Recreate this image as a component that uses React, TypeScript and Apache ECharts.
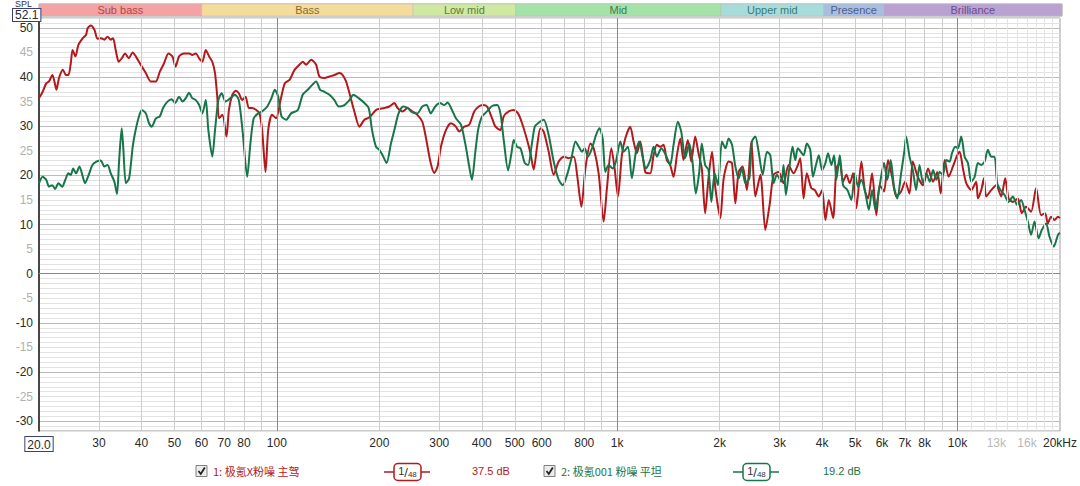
import React, { useEffect, useRef } from "react";
import * as echarts from "echarts";

// Frequencies (Hz) and SPL (dB), series 1 (red)
const FREQ_RED = [20.0,20.5,21.0,21.4,21.9,22.2,22.5,22.9,23.5,24.0,24.4,24.8,25.1,25.6,26.1,26.9,27.5,27.8,28.4,29.1,29.7,30.4,31.1,31.8,32.5,33.0,33.6,34.3,35.0,35.8,36.7,37.7,38.5,39.8,41.2,42.6,44.1,45.3,46.6,48.0,49.3,50.4,51.6,53.4,55.2,56.4,57.8,59.1,60.4,61.8,63.2,64.6,65.8,66.8,67.6,69.2,71.1,72.3,74.0,75.7,77.3,79.1,80.9,82.7,84.6,87.0,88.9,90.5,92.6,94.3,96.8,99.5,102.5,105.5,108.9,112.6,116.5,119.1,121.9,126.1,130.4,133.3,137.9,142.7,147.6,152.6,156.1,159.7,163.4,168.9,174.8,180.8,187.0,195.6,200,206.9,214.0,221.4,226.3,234.1,242.2,250,258.6,267.5,273.7,283.1,290.1,296.6,303.4,313.9,324.6,335.7,343.4,355.2,367.4,380.1,392,402.7,414.6,428.8,438.8,453.8,464,480.1,496.6,511.2,525.3,543.5,556,568.3,581.3,594.8,608.1,629,650.6,673,696.7,720.6,745.4,762.3,784.9,806.5,834.2,852.9,881.9,912.3,932.8,961,982.6,1005,1032,1056,1092,1117,1142,1169,1209,1250,1279,1308,1338,1368,1399,1431,1464,1498,1532,1566,1612,1650,1695,1733,1772,1813,1854,1899,1943,2009,2055,2125,2174,2224,2274,2336,2405,2478,2546,2634,2724,2804,2881,2980,3082,3188,3297,3394,3450,3529,3607,3718,3808,3911,4000,4090,4185,4308,4406,4508,4609,4714,4823,4933,5044,5217,5338,5459,5608,5774,5908,6081,6248,6421,6608,6826,7014,7225,7388,7642,7919,8191,8472,8722,8921,9166,9417,9693,9980,10143,10371,10605,10970,11345,11477,11740,11951,12138,12556,12988,13436,13802,14123,14539,15039,15449,15903,16448,17015,17601,18086,18418,18833,19271,19730,20000];
const SPL_RED = [35.7,37.0,38.7,39.1,40.4,39.1,37.4,39.8,41.5,40.4,40.4,42.8,45.5,44.2,46.5,47.9,48.6,49.9,50.5,49.6,47.8,47.9,47.6,48.2,47.6,47.9,45.5,43.1,43.8,44.8,43.8,45.0,44.2,42.5,40.8,39.1,39.1,41.1,42.8,44.8,44.2,42.1,44.2,44.8,44.8,44.5,44.8,43.8,43.1,45.5,44.2,43.1,40.8,36.0,31.6,32.3,27.9,33.3,36.4,37.2,36.7,35.3,36.0,33.7,33.7,33.3,32.6,29.2,20.7,29.2,32.3,31.6,35.3,38.7,39.4,41.4,42.5,43.1,42.5,43.5,42.5,40.1,39.8,40.1,40.4,40.8,40.4,39.1,36.7,33.0,29.9,31.3,31.8,33.3,33.5,33.7,34.0,34.7,33.7,33.0,33.7,33.0,32.3,30.9,27.9,22.5,20.5,21.8,25.8,29.2,30.6,29.9,28.9,29.9,30.3,33.0,34.0,34.3,34.0,31.6,29.9,29.2,32.0,33.0,33.3,32.6,30.6,27.2,24.5,21.2,25.8,29.6,28.9,24.8,20.1,22.8,23.8,23.5,23.8,20.1,13.6,21.4,26.5,25.5,20.4,10.6,17.4,25.5,21.4,15.7,24.1,27.5,29.9,26.9,24.5,26.9,20.7,20.4,24.1,26.2,25.8,26.2,23.1,22.1,19.7,24.1,27.5,23.1,27.2,22.8,27.9,24.5,21.4,12.3,19.4,24.8,17.4,11.3,19.4,22.8,22.5,14.3,20.7,21.8,17.0,26.9,15.7,20.1,8.9,14.0,20.1,20.7,18.4,22.1,20.4,22.1,23.5,15.3,20.4,17.4,17.0,15.7,17.0,10.9,15.0,11.3,21.4,22.5,18.7,20.1,18.4,20.4,13.3,22.8,17.0,15.3,20.4,11.9,18.0,16.7,23.1,19.7,15.7,16.7,18.7,16.3,22.8,19.7,18.0,21.4,18.7,20.7,16.3,23.1,19.7,21.8,24.1,24.8,21.4,18.4,17.0,18.7,15.3,17.0,19.4,15.7,17.0,18.0,15.7,19.4,15.3,14.6,15.3,12.3,13.6,12.6,17.4,11.9,12.3,10.2,11.6,10.9,11.6,11.3];

// Series 2 (green)
const FREQ_GREEN = [20.0,20.5,21.0,21.4,21.9,22.3,22.8,23.4,23.9,24.4,24.8,25.2,25.7,26.3,26.9,27.3,28.0,28.7,29.5,30.4,31.1,31.8,32.5,33.3,33.9,34.4,35.0,35.4,36.0,36.8,37.7,38.3,39.2,40.1,41.2,42.1,42.9,44.1,45.3,46.3,47.7,49.1,50.2,51.6,52.8,54.0,55.2,56.4,57.8,59.1,60.4,61.8,62.9,64.6,65.8,67.3,68.8,70.7,73.1,75.3,77.3,79.4,81.8,83.6,85.5,88.1,90.5,93.7,96.4,98.6,100.9,103.2,106.5,110.1,115.2,119.1,123.2,127,130.4,134,137.9,142.7,147.6,151.9,157.9,163.4,167.8,173.9,180.8,186.1,190.4,195.6,200,204.5,210.1,216.4,221.4,227.8,235.2,242.2,250,258.6,267.5,275.4,283.1,292,301.4,310.3,317.4,326.9,335.7,347.4,357.6,367.4,374.2,382.6,390.1,400.8,414.6,428.8,443.7,453.8,464,477.9,488.9,496.6,507.9,519.6,535.1,547.2,559.7,572.3,585.1,608.1,629,650.6,673,692,712.4,733.9,753.9,771,788.2,802.7,820.8,843.3,866.4,886.1,906.1,922.8,943.6,969.4,991.3,1021,1044,1075,1104,1135,1161,1187,1214,1250,1279,1308,1347,1390,1431,1464,1507,1542,1584,1628,1664,1702,1742,1772,1813,1854,1891,1934,1977,2031,2079,2125,2174,2224,2274,2325,2380,2445,2489,2546,2603,2675,2754,2817,2881,2946,3035,3082,3131,3203,3275,3336,3394,3529,3607,3691,3759,3849,3911,4000,4090,4165,4259,4338,4406,4508,4609,4745,4877,4990,5102,5217,5338,5486,5608,5734,5908,6081,6218,6363,6506,6654,6826,6986,7062,7225,7388,7555,7729,7919,8098,8286,8472,8665,8861,9061,9266,9481,9630,9849,10027,10253,10491,10728,10970,11225,11477,11740,12008,12279,12556,12847,13075,13377,13747,14123,14539,14966,15376,15731,16086,16448,16832,17296,17686,18207,18630,19179,19730,20000];
const SPL_GREEN = [18.4,19.7,19.1,17.7,18.0,17.2,18.4,17.7,19.1,20.4,20.1,21.4,20.4,21.8,19.7,18.4,20.1,22.1,22.8,23.0,21.8,22.1,20.4,18.7,16.2,23.1,29.6,25.2,18.4,19.4,25.8,28.6,31.6,33.3,32.6,30.6,29.9,31.6,32.0,33.7,35.0,35.5,34.7,36.0,35.0,35.7,36.8,35.7,35.3,34.3,32.6,35.3,29.2,23.8,29.2,35.3,36.7,35.0,35.7,36.4,35.3,28.6,19.7,26.5,31.6,32.6,33.0,34.0,35.7,37.4,36.0,32.0,31.3,32.6,33.3,36.4,37.4,38.4,39.1,37.4,37.0,36.4,35.3,34.0,34.3,35.3,36.4,35.7,34.7,33.7,29.2,25.8,25.2,24.1,22.5,26.5,29.2,32.6,34.0,33.7,32.8,32.6,34.0,34.3,32.6,34.0,34.7,34.3,34.8,33.3,31.6,30.3,26.5,21.8,19.1,24.5,29.2,32.0,33.0,34.1,34.3,32.6,27.2,21.0,24.5,27.2,25.8,25.5,22.5,22.1,25.8,29.9,30.6,31.3,28.2,22.8,19.1,18.0,20.1,23.5,26.9,25.8,24.8,25.5,23.8,25.5,28.2,29.6,27.5,20.7,22.1,21.4,22.8,26.9,24.8,25.8,19.4,24.8,26.9,23.8,21.4,23.1,25.8,23.8,25.5,24.1,22.1,26.2,30.9,28.9,23.5,26.5,22.8,16.3,20.7,26.5,22.1,21.1,14.6,20.4,18.0,26.9,25.5,27.5,26.2,21.8,19.4,21.4,18.4,19.4,26.9,27.9,24.8,20.1,24.8,24.1,18.4,20.1,18.7,22.1,16.0,21.4,25.8,23.1,25.5,24.1,26.5,25.2,19.7,22.5,24.1,21.1,22.5,24.5,22.1,24.1,19.1,24.1,18.0,17.0,15.0,20.4,17.7,19.1,17.0,13.0,17.0,13.0,18.0,22.5,19.1,23.1,17.7,15.3,20.4,25.2,27.9,23.8,21.1,17.0,22.1,18.4,20.4,18.7,21.1,19.1,20.7,20.1,23.1,22.8,24.5,25.8,25.5,27.9,23.8,22.5,18.7,19.7,22.5,22.1,22.8,25.2,23.8,23.8,18.4,17.0,16.0,14.6,15.7,14.0,15.0,13.0,10.6,7.9,10.6,7.2,8.9,10.2,7.5,5.5,7.9,8.3];

const SERIES_NAMES = ["1: 极氪X粉噪 主驾", "2: 极氪001 粉噪 平坦"];
const SERIES_COLORS = ["#b3191c", "#17754a"];
const SERIES_LEVELS = ["37.5 dB", "19.2 dB"];

const BAND_NAMES = ["Sub bass", "Bass", "Low mid", "Mid", "Upper mid", "Presence", "Brilliance"];
const BAND_EDGES = [20, 60, 250, 500, 2000, 4000, 6000, 20000];
const BAND_FILL = ["#f4a2a3", "#f6dc9c", "#cfe9a2", "#a4e3a8", "#a6ddda", "#a9bde0", "#b9a2d2"];
const BAND_TEXT = ["#b34646", "#8a6b2c", "#5d7d3a", "#3c7d4c", "#3b7b7b", "#4b5d8e", "#6a4b8c"];

const X_TICKS = [20, 30, 40, 50, 60, 70, 80, 100, 200, 300, 400, 500, 600, 800, 1000, 2000, 3000, 4000, 5000, 6000, 7000, 8000, 10000, 13000, 16000, 20000];
const X_GRID = [30, 40, 50, 60, 70, 80, 90, 100, 200, 300, 400, 500, 600, 700, 800, 900, 1000, 2000, 3000, 4000, 5000, 6000, 7000, 8000, 9000, 10000, 11000, 12000, 13000, 14000, 15000, 16000, 17000, 18000, 19000];
const X_MAJOR = [100, 1000, 10000];
const Y_MIN = -32;
const Y_MAX = 52;
const Y_TOP_READOUT = "52.1";

function xLabel(v: number): string {
  const r = Math.round(v);
  if (r === 20) return "{box|20.0}";
  if (r === 20000) return "20kHz";
  if (r === 13000 || r === 16000) return "{light|" + r / 1000 + "k}";
  if (r >= 1000) return r / 1000 + "k";
  return String(r);
}

export default function App() {
  const ref = useRef<HTMLDivElement>(null);
  useEffect(() => {
    if (!ref.current) return;
    const chart = echarts.init(ref.current, undefined, { renderer: "svg" });
    const font = "Liberation Sans, Arial, sans-serif";
    const cjk = "Noto Sans CJK SC, sans-serif";

    const gridLineData = X_GRID.map((f) => ({
      xAxis: f,
      lineStyle: {
        color: X_MAJOR.includes(f) ? "#8a8a8a" : f > 10000 ? "#e4e4e4" : "#cdcdcd",
        width: 1,
        type: "solid" as const,
      },
    }));

    const bandAreas = BAND_NAMES.map((name, i) => [
      {
        name,
        xAxis: BAND_EDGES[i],
        itemStyle: { color: BAND_FILL[i], borderColor: "#b8b8b8", borderWidth: 0.5 },
        label: { color: BAND_TEXT[i] },
      },
      { xAxis: BAND_EDGES[i + 1] },
    ]);

    const ySplitColors = Array.from({ length: 10 }, (_, i) => (i === 2 ? "#bcbcbc" : "#e2e2e2"));

    const legendGraphic: any[] = [];
    const legendX = [196, 544];
    const textX = [213, 561];
    const symX = [384, 733];
    const levelX = [472, 823];
    const cy = 471;
    for (let i = 0; i < 2; i++) {
      legendGraphic.push(
        {
          type: "rect",
          shape: { x: legendX[i], y: cy - 5.5, width: 11, height: 11 },
          style: { fill: "#ececec", stroke: "#808080", lineWidth: 1 },
        },
        {
          type: "polyline",
          shape: { points: [[legendX[i] + 2.5, cy], [legendX[i] + 4.8, cy + 3], [legendX[i] + 8.8, cy - 3.5]] },
          style: { stroke: "#222", lineWidth: 1.8, fill: "none" },
        },
        {
          type: "text",
          x: textX[i],
          y: cy,
          style: { text: SERIES_NAMES[i], fill: SERIES_COLORS[i], font: "11px " + cjk, verticalAlign: "middle" },
        },
        {
          type: "line",
          shape: { x1: symX[i], y1: cy + 1, x2: symX[i] + 46, y2: cy + 1 },
          style: { stroke: SERIES_COLORS[i], lineWidth: 1.5 },
        },
        {
          type: "rect",
          shape: { x: symX[i] + 10, y: cy - 7.5, width: 27, height: 17, r: 4 },
          style: { fill: "#fff", stroke: SERIES_COLORS[i], lineWidth: 1.5 },
        },
        {
          type: "text",
          x: symX[i] + 23.5,
          y: cy + 1,
          style: {
            text: "{a|1}{b|/}{c|48}",
            align: "center",
            verticalAlign: "middle",
            rich: {
              a: { fill: "#333", font: "11px " + font, verticalAlign: "top" },
              b: { fill: "#333", font: "13px " + font },
              c: { fill: "#333", font: "8px " + font, verticalAlign: "bottom" },
            },
          },
        },
        {
          type: "text",
          x: levelX[i],
          y: cy,
          style: { text: SERIES_LEVELS[i], fill: SERIES_COLORS[i], font: "11px " + font, verticalAlign: "middle" },
        }
      );
    }

    chart.setOption({
      animation: false,
      backgroundColor: "#ffffff",
      grid: [
        { left: 39, right: 18, top: 18, bottom: 55, show: true, borderColor: "#9a9a9a", borderWidth: 1, backgroundColor: "#fff" },
        { left: 39, right: 18, top: 4, height: 12, show: true, borderColor: "#a8a8a8", borderWidth: 1 },
      ],
      xAxis: [
        {
          type: "log",
          logBase: 10,
          min: 20,
          max: 20000,
          gridIndex: 0,
          axisLine: { show: true, lineStyle: { color: "#8a8a8a" } },
          axisTick: { show: false },
          splitLine: { show: false },
          minorSplitLine: { show: false },
          axisLabel: {
            customValues: X_TICKS,
            formatter: xLabel,
            color: "#2a2a2a",
            fontFamily: font,
            fontSize: 12,
            margin: 6,
            showMinLabel: true,
            showMaxLabel: true,
            hideOverlap: false,
            rich: {
              box: { borderColor: "#3b3f7a", borderWidth: 1, padding: [2, 2, 0, 2], color: "#2a2a2a", fontSize: 12, fontFamily: font, backgroundColor: "#fff" },
              light: { color: "#b8b8b8", fontSize: 12, fontFamily: font },
            },
          },
        },
        { type: "log", logBase: 10, min: 20, max: 20000, gridIndex: 1, show: false },
      ],
      yAxis: [
        {
          type: "value",
          min: Y_MIN,
          max: Y_MAX,
          interval: 1,
          gridIndex: 0,
          axisLine: { show: true, onZero: false, lineStyle: { color: "#1a1a1a", width: 1.5 } },
          axisTick: { show: false },
          splitLine: { show: true, lineStyle: { color: ySplitColors, width: 1 } },
          axisLabel: {
            margin: 6,
            fontFamily: font,
            fontSize: 12,
            formatter: (v: number) => {
              if (v % 10 === 0) return "{d|" + v + "}";
              if (v % 5 === 0) return "{l|" + v + "}";
              return "";
            },
            rich: {
              d: { color: "#2a2a2a", fontFamily: font, fontSize: 12, lineHeight: 11 },
              l: { color: "#b0b0b0", fontFamily: font, fontSize: 12, lineHeight: 11 },
            },
          },
        },
        { type: "value", min: 0, max: 1, gridIndex: 1, show: false },
      ],
      series: [
        {
          type: "line",
          name: "grid",
          xAxisIndex: 0,
          yAxisIndex: 0,
          data: [[1000, Y_MIN - 10]],
          showSymbol: false,
          silent: true,
          z: 1,
          lineStyle: { opacity: 0 },
          markLine: { silent: true, symbol: ["none", "none"], label: { show: false }, data: gridLineData, animation: false },
        },
        {
          type: "line",
          name: SERIES_NAMES[0],
          xAxisIndex: 0,
          yAxisIndex: 0,
          data: FREQ_RED.map((f, i) => [f, SPL_RED[i]]),
          showSymbol: false,
          smooth: 0.25,
          z: 3,
          lineStyle: { color: SERIES_COLORS[0], width: 2, join: "round" },
          itemStyle: { color: SERIES_COLORS[0] },
        },
        {
          type: "line",
          name: SERIES_NAMES[1],
          xAxisIndex: 0,
          yAxisIndex: 0,
          data: FREQ_GREEN.map((f, i) => [f, SPL_GREEN[i]]),
          showSymbol: false,
          smooth: 0.25,
          z: 4,
          lineStyle: { color: SERIES_COLORS[1], width: 2, join: "round" },
          itemStyle: { color: SERIES_COLORS[1] },
        },
        {
          type: "line",
          name: "bands",
          xAxisIndex: 1,
          yAxisIndex: 1,
          data: [[1000, 5]],
          showSymbol: false,
          silent: true,
          lineStyle: { opacity: 0 },
          markArea: {
            silent: true,
            label: { show: true, position: "inside", fontFamily: font, fontSize: 11 },
            data: bandAreas,
          },
        },
      ],
      graphic: [
        { type: "text", x: 15, y: -1, z: 10, style: { text: "SPL", fill: "#333", font: "9px " + font } },
        {
          type: "text",
          x: 13,
          y: 9,
          z: 11,
          style: {
            text: Y_TOP_READOUT,
            fill: "#2a2a2a",
            font: "12px " + font,
            lineHeight: 12,
            backgroundColor: "#fff",
            borderColor: "#3b3f7a",
            borderWidth: 1,
            padding: [0, 2, 0, 2],
          },
        },
        ...legendGraphic,
      ],
    });
    return () => chart.dispose();
  }, []);
  return <div ref={ref} style={{ position: "absolute", left: 0, top: 0, width: 1080, height: 486 }} />;
}
